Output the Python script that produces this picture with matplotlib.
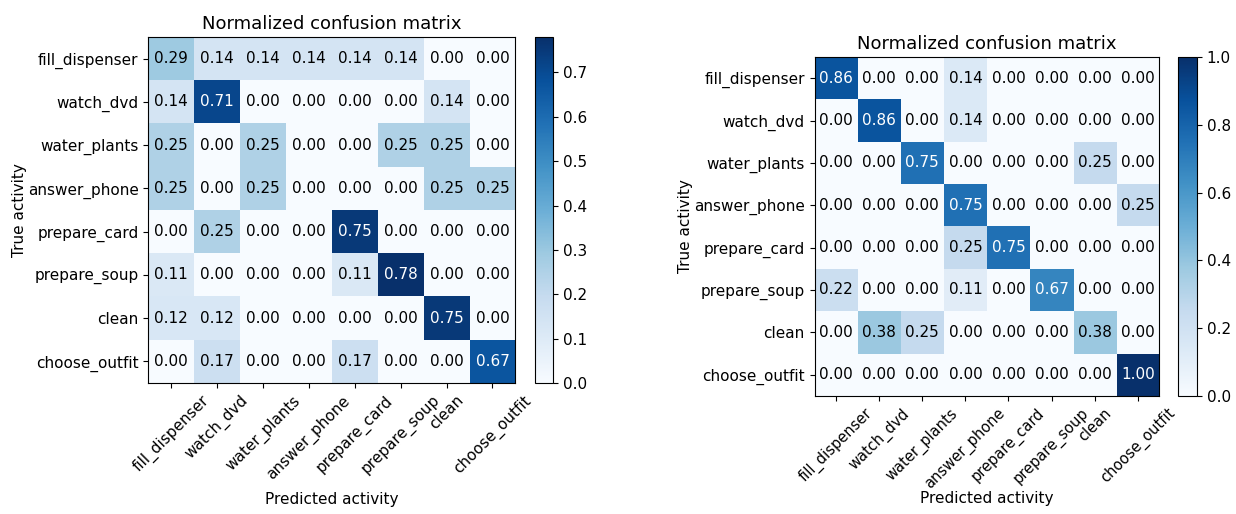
import matplotlib
matplotlib.use('Agg')
import matplotlib.pyplot as plt
import numpy as np

classes = ['fill_dispenser', 'watch_dvd', 'water_plants', 'answer_phone',
           'prepare_card', 'prepare_soup', 'clean', 'choose_outfit']

cm_left = np.array([
    [0.29, 0.14, 0.14, 0.14, 0.14, 0.14, 0.00, 0.00],
    [0.14, 0.71, 0.00, 0.00, 0.00, 0.00, 0.14, 0.00],
    [0.25, 0.00, 0.25, 0.00, 0.00, 0.25, 0.25, 0.00],
    [0.25, 0.00, 0.25, 0.00, 0.00, 0.00, 0.25, 0.25],
    [0.00, 0.25, 0.00, 0.00, 0.75, 0.00, 0.00, 0.00],
    [0.11, 0.00, 0.00, 0.00, 0.11, 0.78, 0.00, 0.00],
    [0.12, 0.12, 0.00, 0.00, 0.00, 0.00, 0.75, 0.00],
    [0.00, 0.17, 0.00, 0.00, 0.17, 0.00, 0.00, 0.67],
])

cm_right = np.array([
    [0.86, 0.00, 0.00, 0.14, 0.00, 0.00, 0.00, 0.00],
    [0.00, 0.86, 0.00, 0.14, 0.00, 0.00, 0.00, 0.00],
    [0.00, 0.00, 0.75, 0.00, 0.00, 0.00, 0.25, 0.00],
    [0.00, 0.00, 0.00, 0.75, 0.00, 0.00, 0.00, 0.25],
    [0.00, 0.00, 0.00, 0.25, 0.75, 0.00, 0.00, 0.00],
    [0.22, 0.00, 0.00, 0.11, 0.00, 0.67, 0.00, 0.00],
    [0.00, 0.38, 0.25, 0.00, 0.00, 0.00, 0.38, 0.00],
    [0.00, 0.00, 0.00, 0.00, 0.00, 0.00, 0.00, 1.00],
])


def plot_cm(fig, cm, ax_rect, cb_rect, cb_ticks, tick_fs, xpad):
    ax = fig.add_axes(ax_rect)
    im = ax.imshow(cm, interpolation='nearest', cmap=plt.cm.Blues, aspect='auto')
    cax = fig.add_axes(cb_rect)
    cb = fig.colorbar(im, cax=cax, ticks=cb_ticks)
    cb.ax.tick_params(labelsize=11)
    ax.set_title('Normalized confusion matrix', fontsize=13)
    ticks = np.arange(len(classes))
    ax.set_xticks(ticks)
    ax.set_xticklabels(classes, rotation=45, fontsize=tick_fs)
    ax.set_yticks(ticks)
    ax.set_yticklabels(classes, fontsize=11)
    thresh = cm.max() / 2.
    for i in range(cm.shape[0]):
        for j in range(cm.shape[1]):
            ax.text(j, i, format(cm[i, j], '.2f'), ha='center', va='center',
                    fontsize=11, color='white' if cm[i, j] > thresh else 'black')
    ax.set_ylabel('True activity', fontsize=11, labelpad=0.5)
    ax.set_xlabel('Predicted activity', fontsize=11, labelpad=xpad)


fig = plt.figure(figsize=(12.36, 5.14), dpi=100)
plot_cm(fig, cm_left, [0.120, 0.255, 0.297, 0.673], [0.433, 0.255, 0.0146, 0.673],
        [0.0, 0.1, 0.2, 0.3, 0.4, 0.5, 0.6, 0.7], 11, 7)
plot_cm(fig, cm_right, [0.659, 0.230, 0.279, 0.659], [0.953, 0.230, 0.0154, 0.659],
        [0.0, 0.2, 0.4, 0.6, 0.8, 1.0], 10.5, -1)
fig.savefig('out.png', dpi=100)
